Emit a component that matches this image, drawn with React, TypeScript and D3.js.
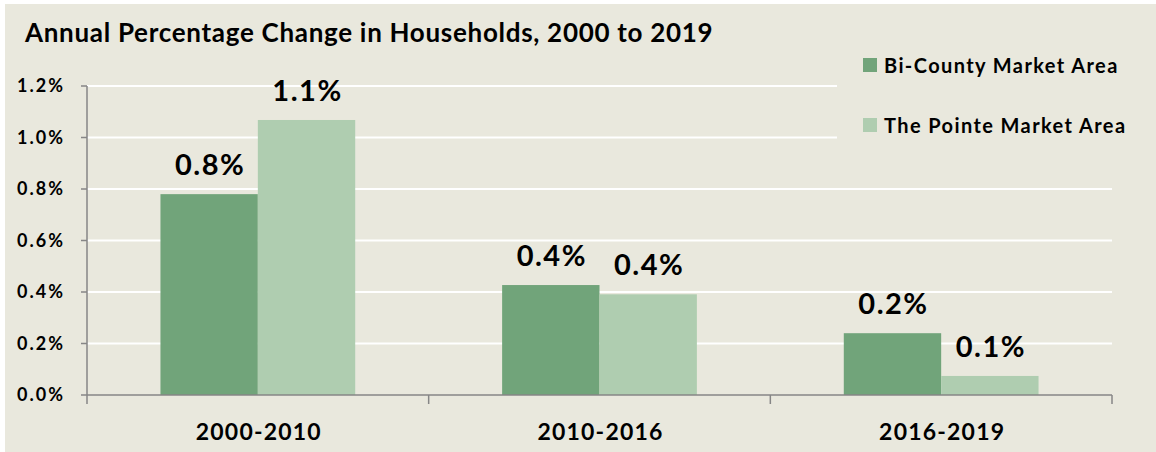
import React from 'react'
import * as d3 from 'd3'

// data
const periods = ['2000-2010', '2010-2016', '2016-2019']
const seriesNames = ['Bi-County Market Area', 'The Pointe Market Area']
const biCounty = [0.0078, 0.00427, 0.0024]
const pointe = [0.01068, 0.00391, 0.00074]
const yTicks = [0, 0.002, 0.004, 0.006, 0.008, 0.01, 0.012]
const colors = ['#71A47A', '#AFCDB0']

const W = 1156
const H = 452
const margin = { top: 86, right: 44, bottom: 57, left: 87 }
const font = 'Lato, "Open Sans", sans-serif'

export default function App() {
  const innerW = W - margin.left - margin.right
  const innerH = H - margin.top - margin.bottom

  const x0 = d3.scaleBand().domain(periods).range([0, innerW]).paddingInner(0.43).paddingOuter(0.215)
  const x1 = d3.scaleBand().domain(seriesNames).range([0, x0.bandwidth()])
  const y = d3.scaleLinear().domain([0, 0.012]).range([innerH, 0])
  const pct = d3.format('.1%')

  const values = [biCounty, pointe]
  const step = x0.step()

  return (
    <svg width={W} height={H} style={{ position: 'fixed', left: 0, top: 0 }} fontFamily={font}>
      <rect x={0} y={0} width={W} height={H} fill="#ffffff" />
      <rect x={5} y={4} width={W - 5} height={H - 4} fill="#E9E8DD" />
      <text x={25} y={42} fontSize={26} fontWeight="bold" letterSpacing={0.7} fill="#000">
        Annual Percentage Change in Households, 2000 to 2019
      </text>
      <g transform={`translate(${margin.left},${margin.top})`}>
        {yTicks.slice(1).map(t => (
          <line key={t} x1={0} x2={innerW} y1={y(t)} y2={y(t)} stroke="#ffffff" strokeWidth={2} />
        ))}
        {/* legend box hides gridlines behind it */}
        <rect x={837 - margin.left} y={40 - margin.top} width={W - 837} height={110} fill="#E9E8DD" />
        {seriesNames.map((s, si) =>
          periods.map((p, i) => {
            const v = values[si][i]
            const bx = (x0(p) ?? 0) + (x1(s) ?? 0)
            return (
              <g key={s + p}>
                <rect x={bx} y={y(v)} width={x1.bandwidth()} height={innerH - y(v)} fill={colors[si]} />
                <text x={bx + x1.bandwidth() / 2 + 1} y={y(v) - 19} textAnchor="middle" fontSize={29} fontWeight="bold" letterSpacing={1.5} fill="#000">
                  {pct(v)}
                </text>
              </g>
            )
          })
        )}
        {/* y axis */}
        <line x1={0} x2={0} y1={0} y2={innerH} stroke="#868686" strokeWidth={1.5} />
        {yTicks.map(t => (
          <g key={t}>
            <line x1={-6} x2={0} y1={y(t)} y2={y(t)} stroke="#868686" strokeWidth={1.5} />
            <text x={-22} y={y(t)} dy="0.35em" textAnchor="end" fontSize={18} fontWeight="bold" letterSpacing={2} fill="#000">
              {pct(t)}
            </text>
          </g>
        ))}
        {/* x axis */}
        <line x1={0} x2={innerW} y1={innerH} y2={innerH} stroke="#868686" strokeWidth={1.5} />
        {d3.range(periods.length + 1).map(i => (
          <line key={i} x1={i * step} x2={i * step} y1={innerH} y2={innerH + 9} stroke="#868686" strokeWidth={1.5} />
        ))}
        {periods.map(p => (
          <text key={p} x={(x0(p) ?? 0) + x0.bandwidth() / 2 + 1} y={innerH + 45} textAnchor="middle" fontSize={23} fontWeight="bold" letterSpacing={1.2} fill="#000">
            {p}
          </text>
        ))}
      </g>
      {seriesNames.map((s, i) => (
        <g key={s} transform={`translate(863,${58 + i * 60})`}>
          <rect width={14} height={14} fill={colors[i]} />
          <text x={21} y={15} fontSize={20} fontWeight="bold" letterSpacing={1.4} fill="#000">{s}</text>
        </g>
      ))}
    </svg>
  )
}
